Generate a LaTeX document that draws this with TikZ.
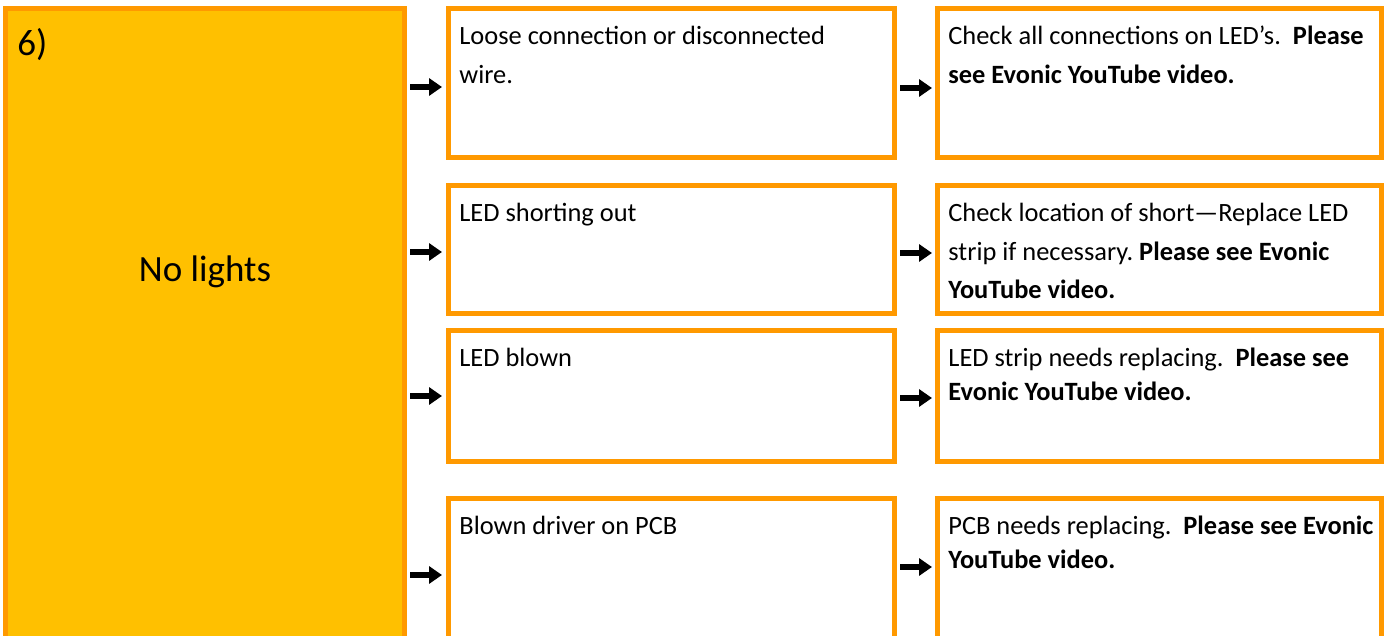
\documentclass[tikz,border=0pt]{standalone}
\usepackage{fontspec}
\setmainfont{Carlito}
\usepackage{xcolor}
\usetikzlibrary{arrows.meta}
\definecolor{frameorange}{HTML}{FF9900}
\definecolor{goldfill}{HTML}{FFC000}

\begin{document}
\begin{tikzpicture}[x=0.5pt, y=-0.5pt, >={Triangle[length=6.5pt,width=8.5pt]}]

\tikzstyle{frame} = [rectangle, draw=frameorange, line width=2.5pt, inner sep=0pt]
\tikzstyle{fault} = [frame, fill=goldfill, minimum width=199.5pt, minimum height=324.5pt]
\tikzstyle{cause} = [frame, fill=white, minimum width=223pt]
\tikzstyle{fix}   = [frame, fill=white, minimum width=222pt]
\tikzstyle{txt}   = [anchor=north west, inner sep=0pt,
                     execute at begin node={\raggedright\frenchspacing\spaceskip=.226em\relax\strut},
                     font=\fontsize{13.2}{19.3}\selectfont]
\tikzstyle{txtn}  = [txt, font=\fontsize{13.2}{17}\selectfont]
\tikzstyle{big}   = [font=\fontsize{18.5}{22}\selectfont]
\tikzstyle{arrow} = [->, line width=3pt, shorten <=1.5pt]

\useasboundingbox (0,0) rectangle (1386,636);
\clip (0,0) rectangle (1386,636);

% ── Fault block ───────────────────────────────────────
\node[fault] (fault) at (205,333) {};
\node[big, anchor=base west, inner sep=0pt] (num) at (17,56) {6)};
\node[big] (title) at (205,272) {No lights};

% ── Middle column: causes ─────────────────────────────
\node[cause, minimum height=74.5pt] (c1) at (671.5,83)    {};
\node[cause, minimum height=64pt]   (c2) at (671.5,249.5) {};
\node[cause, minimum height=65.5pt] (c3) at (671.5,396)   {};
\node[cause, minimum height=76.5pt] (c4) at (671.5,575)   {};

% ── Right column: fixes ───────────────────────────────
\node[fix, minimum height=74.5pt] (f1) at (1159.5,83)    {};
\node[fix, minimum height=64pt]   (f2) at (1159.5,249.5) {};
\node[fix, minimum height=65.5pt] (f3) at (1159.5,396)   {};
\node[fix, minimum height=76.5pt] (f4) at (1159.5,575)   {};

% ── Texts ─────────────────────────────────────────────
\node[txt, text width=210pt] (c1t) at ([xshift=6.5pt,yshift=-5.5pt]c1.north west)
  {Loose connection or disconnected wire.};
\node[txt, text width=210pt] (c2t) at ([xshift=6.5pt,yshift=-5.5pt]c2.north west)
  {LED shorting out};
\node[txtn, text width=210pt] (c3t) at ([xshift=6.5pt,yshift=-7.1pt]c3.north west)
  {LED blown};
\node[txtn, text width=210pt] (c4t) at ([xshift=6.5pt,yshift=-7.1pt]c4.north west)
  {Blown driver on PCB};

\node[txt, text width=216pt] (f1t) at ([xshift=6.5pt,yshift=-5.5pt]f1.north west)
  {Check all connections on LED’s.\ \ \textbf{Please see Evonic YouTube video.}};
\node[txt, text width=216pt] (f2t) at ([xshift=6.5pt,yshift=-5.5pt]f2.north west)
  {Check location of short—Replace LED strip if necessary. \textbf{Please see Evonic YouTube video.}};
\node[txtn, text width=216pt] (f3t) at ([xshift=6.5pt,yshift=-7.1pt]f3.north west)
  {LED strip needs replacing.\ \ \textbf{Please see Evonic YouTube video.}};
\node[txtn, text width=216pt] (f4t) at ([xshift=6.5pt,yshift=-7.1pt]f4.north west)
  {PCB needs replacing.\ \ \textbf{Please see Evonic YouTube video.}};

% ── Arrows: fault to causes ───────────────────────────
\draw[arrow, shorten >=2pt] ([yshift=-2pt]fault.east |- c1.west) -- ([yshift=-2pt]c1.west);
\draw[arrow, shorten >=2pt] ([yshift=-1.25pt]fault.east |- c2.west) -- ([yshift=-1.25pt]c2.west);
\draw[arrow, shorten >=2pt] (fault.east |- c3.west) -- (c3.west);
\draw[arrow, shorten >=2pt] (fault.east |- c4.west) -- (c4.west);

% ── Arrows: causes to fixes ───────────────────────────
\draw[arrow, shorten >=1.5pt] ([yshift=-2.5pt]c1.east)  -- ([yshift=-2.5pt]f1.west);
\draw[arrow, shorten >=1.5pt] ([yshift=-1.75pt]c2.east) -- ([yshift=-1.75pt]f2.west);
\draw[arrow, shorten >=1.5pt] ([yshift=-1pt]c3.east)    -- ([yshift=-1pt]f3.west);
\draw[arrow, shorten >=1.5pt] ([yshift=4pt]c4.east)     -- ([yshift=4pt]f4.west);

\end{tikzpicture}
\end{document}
